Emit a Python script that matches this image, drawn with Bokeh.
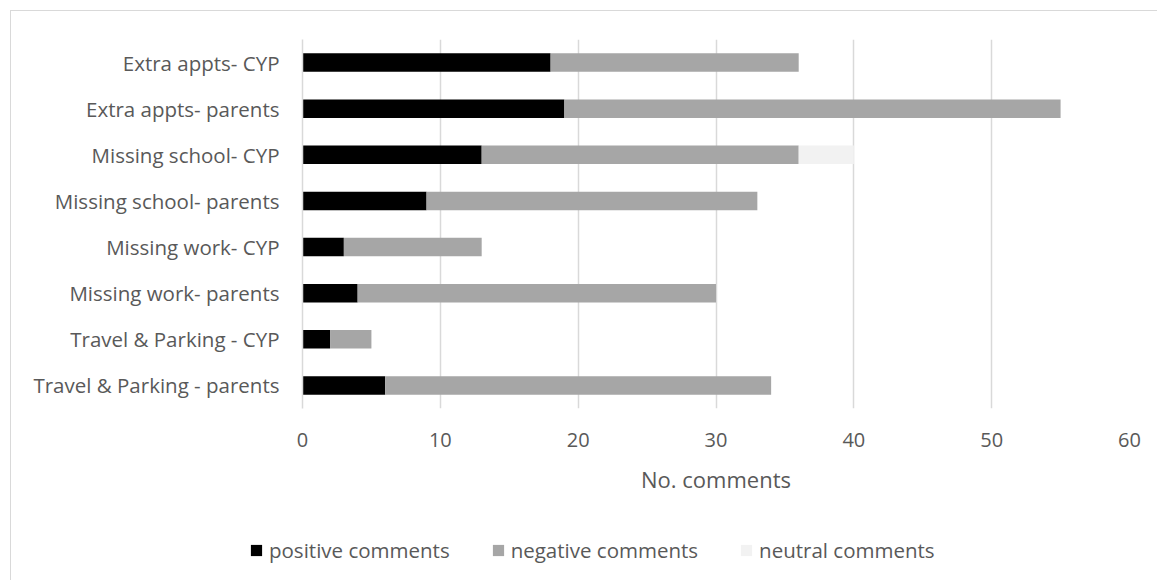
from bokeh.plotting import figure
from bokeh.models import ColumnDataSource, FactorRange, Range1d, Legend, LegendItem, FixedTicker
from bokeh.layouts import column
from bokeh.embed import file_html
from bokeh.resources import INLINE

categories = ["Extra appts- CYP", "Extra appts- parents", "Missing school- CYP",
              "Missing school- parents", "Missing work- CYP", "Missing work- parents",
              "Travel & Parking - CYP", "Travel & Parking - parents"]
positive = [18, 19, 13, 9, 3, 4, 2, 6]
negative = [18, 36, 23, 24, 10, 26, 3, 28]
neutral = [0, 0, 4, 0, 0, 0, 0, 0]
series_names = ["positive comments", "negative comments", "neutral comments"]
series_colors = ["#000000", "#a6a6a6", "#f2f2f2"]
x_ticks = [0, 10, 20, 30, 40, 50, 60]

FONT = "Open Sans"
TXT = "#595959"
GRID = "#d9d9d9"

source = ColumnDataSource(dict(cat=categories, positive=positive, negative=negative, neutral=neutral))

p = figure(width=1146, height=489, output_backend="svg", toolbar_location=None,
           y_range=FactorRange(factors=list(reversed(categories))),
           x_range=Range1d(0, 60),
           min_border_left=291, min_border_right=28, min_border_top=28, min_border_bottom=92)
p.outline_line_color = None
p.frame_align = False

renderers = p.hbar_stack(["positive", "negative", "neutral"], y="cat", height=0.4,
                         color=series_colors, line_color=None, source=source)

p.ygrid.grid_line_color = None
p.xgrid.grid_line_color = GRID
p.xgrid.grid_line_width = 1.5
p.xaxis.ticker = FixedTicker(ticks=x_ticks)

p.xaxis.axis_line_color = None
p.xaxis.major_tick_line_color = None
p.xaxis.minor_tick_line_color = None
p.xaxis.major_label_text_font = FONT
p.xaxis.major_label_text_font_size = "20px"
p.xaxis.major_label_text_color = TXT
p.xaxis.major_label_standoff = 18
p.xaxis.axis_label = "No. comments"
p.xaxis.axis_label_text_font = FONT
p.xaxis.axis_label_text_font_size = "22px"
p.xaxis.axis_label_text_font_style = "normal"
p.xaxis.axis_label_text_color = TXT
p.xaxis.axis_label_standoff = 14

p.yaxis.axis_line_color = GRID
p.yaxis.axis_line_width = 1.5
p.yaxis.major_tick_line_color = None
p.yaxis.minor_tick_line_color = None
p.yaxis.major_label_text_font = FONT
p.yaxis.major_label_text_font_size = "20.5px"
p.yaxis.major_label_text_color = TXT
p.yaxis.major_label_standoff = 17

# legend strip below the chart
p2 = figure(width=1146, height=80, output_backend="svg", toolbar_location=None,
            x_range=Range1d(0, 1), y_range=Range1d(0, 1),
            min_border_left=0, min_border_right=0, min_border_top=0, min_border_bottom=0)
p2.frame_align = False
p2.axis.visible = False
p2.grid.visible = False
p2.outline_line_color = None
dummy = [p2.hbar(y=[-10], right=[-10], left=[-11], height=0.4, color=c, line_color=None)
         for c in series_colors]
legend = Legend(items=[LegendItem(label=n, renderers=[r]) for n, r in zip(series_names, dummy)],
                orientation="horizontal", location=(238, 16),
                label_text_font=FONT, label_text_font_size="20.5px", label_text_color=TXT,
                glyph_width=14, glyph_height=14, label_standoff=6, spacing=41,
                padding=0, margin=0, border_line_color=None, background_fill_alpha=0,
                label_height=28)
p2.add_layout(legend, "center")

layout = column(p, p2, spacing=0)
layout.styles = {"border-top": "1px solid #d9d9d9", "border-left": "1px solid #d9d9d9",
                 "margin-left": "10px", "margin-top": "10px"}

open("out.html", "w").write(file_html(layout, INLINE))
